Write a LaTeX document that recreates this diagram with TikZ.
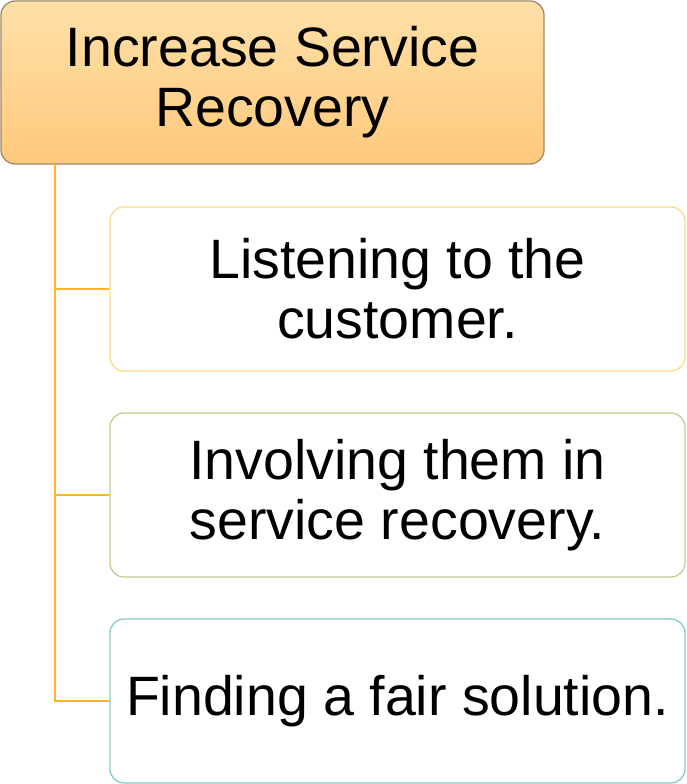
\documentclass[tikz,border=0pt]{standalone}
\usepackage{fontspec}
\setmainfont{Liberation Sans}
\usetikzlibrary{positioning}
\definecolor{topA}{HTML}{FFE0A8}
\definecolor{topB}{HTML}{FFC97C}
\definecolor{topborder}{HTML}{9E8A6A}
\definecolor{conn}{HTML}{FFB71E}
\definecolor{bA}{HTML}{F7DE86}
\definecolor{bB}{HTML}{C9CB8E}
\definecolor{bC}{HTML}{86CACA}
\tikzset{
  txt/.style={font=\fontsize{55.5}{60}\selectfont, align=center, text=black},
  topbox/.style={draw=topborder, line width=1.3pt, rounded corners=14pt,
     top color=topA, bottom color=topB, minimum width=543pt, minimum height=163pt, txt, inner sep=0pt},
  childbox/.style={line width=1.3pt, rounded corners=14pt, fill=white,
     minimum width=575pt, minimum height=164pt, txt, inner sep=0pt},
  link/.style={draw=conn, line width=2pt},
}
\begin{document}
\begin{tikzpicture}[x=1pt,y=-1pt]
\useasboundingbox (0,0) rectangle (686,784);
\node[topbox] (top) at (272.5,82.5) {Increase Service\\Recovery};
\node[childbox, draw=bA] (c1) at (397.5,289) {Listening to the\\customer.};
\node[childbox, draw=bB] (c2) at (397.5,495) {Involving them in\\service recovery.};
\node[childbox, draw=bC] (c3) at (397.5,701) {Finding a fair solution.};
\coordinate (s) at (55,164);
\draw[link] (s) |- (c1.west);
\draw[link] (s) |- (c2.west);
\draw[link] (s) |- (c3.west);
\end{tikzpicture}
\end{document}
